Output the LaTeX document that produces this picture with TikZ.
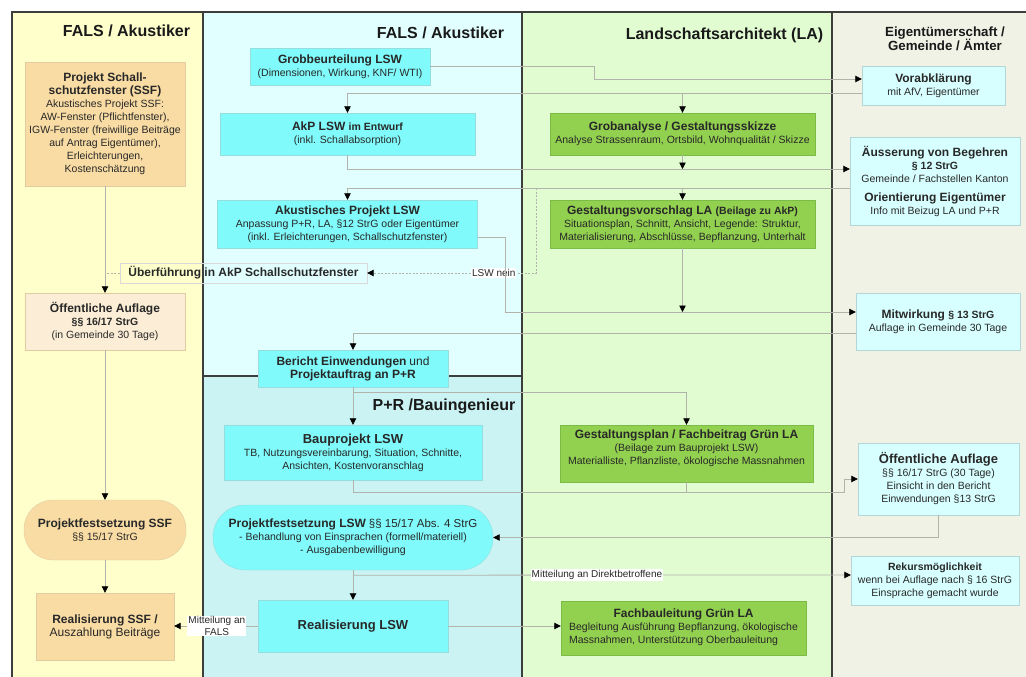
\documentclass[tikz,border=0pt]{standalone}
\usepackage{fontspec}
\setmainfont{Liberation Sans}
\usepackage{tikz}
\usetikzlibrary{arrows.meta,calc,positioning}

\definecolor{laneyellow}{RGB}{255,255,204}
\definecolor{lanecyan}{RGB}{226,255,255}
\definecolor{lanepr}{RGB}{204,243,243}
\definecolor{lanegreen}{RGB}{226,252,210}
\definecolor{lanebeige}{RGB}{240,242,230}
\definecolor{boxcyan}{RGB}{128,250,250}
\definecolor{boxcyanline}{RGB}{150,222,222}
\definecolor{boxgreen}{RGB}{146,208,80}
\definecolor{boxgreenline}{RGB}{122,188,70}
\definecolor{boxtan}{RGB}{249,220,164}
\definecolor{boxtanline}{RGB}{224,204,160}
\definecolor{boxpeach}{RGB}{252,238,214}
\definecolor{boxice}{RGB}{216,255,255}
\definecolor{boxiceline}{RGB}{180,214,214}
\definecolor{flowgray}{RGB}{178,180,172}
\definecolor{laneedge}{RGB}{60,62,60}
\definecolor{subtext}{RGB}{40,40,40}

\newcommand\hdfont{\fontsize{12}{14}\selectfont\bfseries}
\newcommand\hdbig{\fontsize{13}{15}\selectfont\bfseries}
\newcommand\hdsmall{\fontsize{10.5}{13}\selectfont\bfseries}
\newcommand\lanefont{\fontsize{16}{19}\selectfont\bfseries}

\tikzset{
  box/.style={inner sep=1pt, align=center, text=subtext, font=\fontsize{10.5}{13}\selectfont},
  cyanbox/.style={box, fill=boxcyan, draw=boxcyanline},
  greenbox/.style={box, fill=boxgreen, draw=boxgreenline},
  tanbox/.style={box, fill=boxtan, draw=boxtanline},
  peachbox/.style={box, fill=boxpeach, draw=boxtanline},
  icebox/.style={box, fill=boxice, draw=boxiceline},
  plainbox/.style={box, draw=black!15},
  lanetitle/.style={font=\lanefont, align=center, text=black!90},
  laneline/.style={draw=laneedge, line width=1.3pt},
  link/.style={draw=flowgray, line width=0.8pt},
  flow/.style={link, -{Triangle[width=6.5pt,length=6.5pt,color=black]}},
  lbl/.style={fill=white, inner sep=1pt, align=center, text=subtext, font=\fontsize{10}{11.5}\selectfont}
}

\begin{document}
\begin{tikzpicture}[x=1pt,y=-1pt]
\useasboundingbox (0,0) rectangle (1026,677);
\fill[laneyellow] (12,12) rectangle (203,677);
\fill[lanecyan] (203,12) rectangle (522,376);
\fill[lanepr] (203,376) rectangle (522,677);
\fill[lanegreen] (522,12) rectangle (832,677);
\fill[lanebeige] (832,12) rectangle (1026,677);
\draw[laneline] (12,677) -- (12,12) -- (1026,12);
\draw[laneline] (203,12) -- (203,677);
\draw[laneline] (522,12) -- (522,677);
\draw[laneline] (832,12) -- (832,677);
\draw[laneline] (203,376) -- (522,376);

\node[lanetitle] (t1) at (126.5,31) {FALS / Akustiker};
\node[lanetitle] (t2) at (440.5,33) {FALS / Akustiker};
\node[lanetitle] (t3) at (724.5,35) {Landschaftsarchitekt (LA)};
\node[lanetitle, font=\fontsize{13.3}{14.5}\selectfont\bfseries] (t4) at (945,39) {Eigentümerschaft /\\Gemeinde / Ämter};
\node[lanetitle] (t5) at (444,406) {P+R /Bauingenieur};

\node[tanbox, minimum width=160, minimum height=124] (ssf) at (105,124)
  {{\hdfont Projekt Schall-}\\{\hdfont schutzfenster (SSF)}\\Akustisches Projekt SSF:\\AW-Fenster (Pflichtfenster),\\IGW-Fenster (freiwillige Beiträge\\auf Antrag Eigentümer),\\Erleichterungen,\\Kostenschätzung};
\node[peachbox, minimum width=160, minimum height=57] (auf1) at (105,321.5)
  {{\hdfont Öffentliche Auflage}\\{\hdsmall §§ 16/17 StrG}\\(in Gemeinde 30 Tage)};
\node[tanbox, minimum width=162, minimum height=60, rounded corners=29] (fssf) at (105,530)
  {{\hdfont Projektfestsetzung SSF}\\§§ 15/17 StrG};
\node[tanbox, minimum width=138, minimum height=67] (rssf) at (105,626.5)
  {{\hdfont Realisierung SSF /}\\{\fontsize{12}{14}\selectfont Auszahlung Beiträge}};
\node[plainbox, minimum width=247, minimum height=20] (ueber) at (243.5,273)
  {\hdfont Überführung in AkP Schallschutzfenster};

\node[cyanbox, minimum width=180, minimum height=37] (grob) at (340,66.5)
  {{\hdfont Grobbeurteilung LSW}\\(Dimensionen, Wirkung, KNF/ WTI)};
\node[cyanbox, minimum width=255, minimum height=42] (akp) at (347.5,134)
  {{\hdfont AkP LSW \hdsmall im Entwurf}\\(inkl. Schallabsorption)};
\node[cyanbox, minimum width=260, minimum height=48] (akust) at (347.5,224)
  {{\hdfont Akustisches Projekt LSW}\\Anpassung P+R, LA, §12 StrG oder Eigentümer\\(inkl. Erleichterungen, Schallschutzfenster)};
\node[cyanbox, minimum width=190, minimum height=37] (bericht) at (353,368.5)
  {{\hdfont Bericht Einwendungen} {\fontsize{12}{14}\selectfont und}\\{\hdfont Projektauftrag an P+R}};
\node[cyanbox, minimum width=258, minimum height=55] (bau) at (353,452.5)
  {{\hdbig Bauprojekt LSW}\\TB, Nutzungsvereinbarung, Situation, Schnitte,\\Ansichten, Kostenvoranschlag};
\node[cyanbox, minimum width=280, minimum height=65, rounded corners=32] (flsw) at (353,537.5)
  {{\hdfont Projektfestsetzung LSW} {\fontsize{11.5}{14}\selectfont §§ 15/17 Abs. 4 StrG}\\- Behandlung von Einsprachen (formell/materiell)\\- Ausgabenbewilligung};
\node[cyanbox, minimum width=190, minimum height=52] (rlsw) at (353,626)
  {\hdbig Realisierung LSW};

\node[greenbox, minimum width=265, minimum height=42] (groban) at (682.5,134)
  {{\hdfont Grobanalyse / Gestaltungsskizze}\\Analyse Strassenraum, Ortsbild, Wohnqualität / Skizze};
\node[greenbox, minimum width=265, minimum height=48] (gestv) at (682.5,224)
  {{\hdfont Gestaltungsvorschlag LA \hdsmall (Beilage zu AkP)}\\Situationsplan, Schnitt, Ansicht, Legende: Struktur,\\Materialisierung, Abschlüsse, Bepflanzung, Unterhalt};
\node[greenbox, minimum width=253, minimum height=57] (gestp) at (686.5,453.5)
  {{\hdfont Gestaltungsplan / Fachbeitrag Grün LA}\\(Beilage zum Bauprojekt LSW)\\Materialliste, Pflanzliste, ökologische Massnahmen\\\mbox{}};
\node[greenbox, minimum width=245, minimum height=54] (fbau) at (683.5,628)
  {{\hdfont Fachbauleitung Grün LA}\\\begin{tabular}{@{}l@{}}Begleitung Ausführung Bepflanzung, ökologische\\Massnahmen, Unterstützung Oberbauleitung\end{tabular}};

\node[icebox, minimum width=143, minimum height=39] (vorab) at (933.5,85.5)
  {{\hdfont Vorabklärung}\\mit AfV, Eigentümer};
\node[icebox, minimum width=170, minimum height=88] (aeuss) at (935,181)
  {{\hdfont Äusserung von Begehren}\\{\hdsmall § 12 StrG}\\Gemeinde / Fachstellen Kanton\\[6pt]{\hdfont Orientierung Eigentümer}\\Info mit Beizug LA und P+R};
\node[icebox, minimum width=164, minimum height=57] (mitw) at (938,321.5)
  {{\hdfont Mitwirkung \hdsmall § 13 StrG}\\Auflage in Gemeinde 30 Tage};
\node[icebox, minimum width=161, minimum height=72] (auf2) at (938.5,479)
  {{\hdbig Öffentliche Auflage}\\§§ 16/17 StrG (30 Tage)\\Einsicht in den Bericht\\Einwendungen §13 StrG};
\node[icebox, minimum width=168, minimum height=49] (rekurs) at (935,580.5)
  {{\hdsmall Rekursmöglichkeit}\\wenn bei Auflage nach § 16 StrG\\Einsprache gemacht wurde};

\draw[flow] (grob.east) -- ++(164,0) |- ($(vorab.west)+(0,-6.5)$);
\coordinate (v1) at ($(vorab.west)+(0,7.5)$);
\draw[flow] (v1) -| (akp.north);
\draw[flow] (v1 -| groban.north) -- (groban.north);
\coordinate (a1) at ($(aeuss.west)+(0,-12)$);
\draw[flow] (akp.south) |- (a1);
\draw[flow] (groban.south) -- (groban.south |- a1);
\coordinate (a2) at ($(aeuss.west)+(0,7)$);
\draw[flow] (a2) -| (akust.north);
\draw[flow] (a2 -| gestv.north) -- (gestv.north);
\coordinate (nein) at (536,273);
\draw[flow, dash pattern=on 2pt off 1.5pt] (nein |- a2) -- (nein) -- node[lbl, pos=0.25] {LSW nein} (ueber.east);
\draw[link, dash pattern=on 2pt off 1.5pt] (ueber.west) -- (ueber.west -| ssf.south);
\coordinate (m1) at ($(mitw.west)+(0,-9.5)$);
\draw[flow] ($(akust.east)+(0,13)$) -- ++(28,0) |- (m1);
\draw[flow] (gestv.south) -- (gestv.south |- m1);
\coordinate (m2) at ($(mitw.west)+(0,11.5)$);
\draw[flow] (m2) -| (bericht.north);
\draw[flow] (ssf.south) -- (auf1.north);
\draw[flow] (auf1.south) -- (fssf.north);
\draw[flow] (fssf.south) -- (rssf.north);
\draw[flow] (bericht.south) -- (bau.north);
\draw[flow] ($(bericht.south)+(0,5)$) -| (gestp.north);
\coordinate (b1) at ($(bau.south)+(0,12)$);
\draw[flow] (bau.south) -- (b1) -| ($(auf2.west)+(-13,0)$) -- (auf2.west);
\draw[link] (gestp.south) -- (gestp.south |- b1);
\draw[flow] (auf2.south) |- (flsw.east);
\draw[flow] (flsw.south) -- (rlsw.north);
\draw[flow] ($(flsw.south)+(0,5)$) -- node[lbl, pos=0.49] {Mitteilung an Direktbetroffene} ($(rekurs.west)+(0,-5.5)$);
\draw[flow] (rlsw.east) -- (rlsw.east -| fbau.west);
\draw[flow] (rlsw.west) -- node[lbl, pos=0.49] {Mitteilung an\\FALS} (rlsw.west -| rssf.east);
\end{tikzpicture}
\end{document}
